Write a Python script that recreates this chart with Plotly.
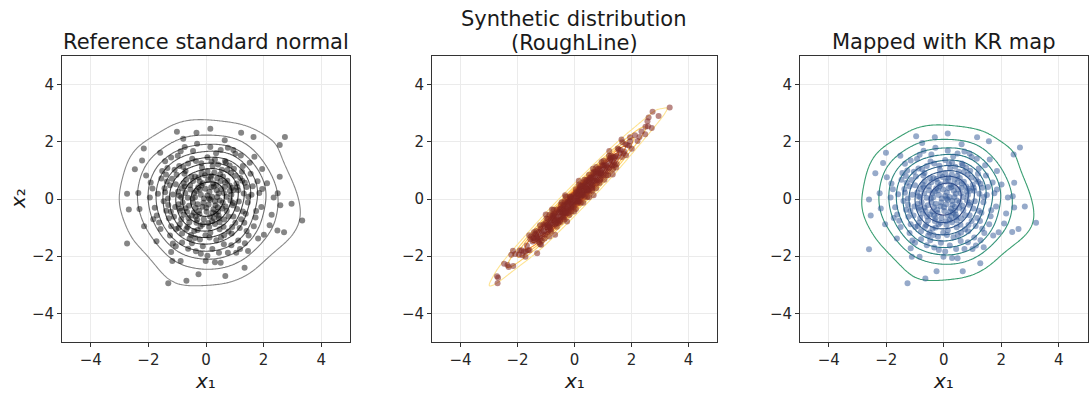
import numpy as np
import plotly.graph_objects as go

# ---------------------------------------------------------------- data
# Samples from the reference standard normal
ref_pts = [
    (0.05, 0.12), (-0.21, 0.33), (0.31, -0.08), (-0.12, -0.27), (0.18, 0.41), (-0.38, 0.06), (0.44, 0.19),
    (0.02, -0.45), (-0.29, -0.18), (0.26, -0.36), (-0.07, 0.02), (0.12, 0.25), (-0.45, -0.12), (0.37, 0.31),
    (-0.16, 0.47), (0.09, -0.19), (-0.33, 0.28), (0.48, -0.05), (0.21, 0.08), (-0.02, 0.36), (-0.24, -0.41),
    (0.33, -0.22), (-0.41, 0.21), (0.15, -0.03), (-0.09, -0.13), (0.27, 0.44), (-0.18, 0.15), (0.41, -0.29),
    (0.01, -0.31), (-0.36, -0.31), (0.11, 0.02), (-0.27, 0.41), (0.23, -0.47), (-0.47, 0.02), (0.39, 0.07),
    (0.62, 0.21), (-0.55, 0.48), (0.18, 0.81), (-0.71, -0.32), (0.45, -0.68), (-0.12, -0.89), (0.88, 0.15),
    (-0.93, 0.11), (0.51, 0.63), (-0.38, 0.79), (0.72, -0.42), (-0.61, -0.66), (0.05, 0.97), (0.31, -0.87),
    (-0.84, 0.38), (0.93, -0.22), (-0.22, 0.62), (0.66, 0.58), (-0.49, -0.58), (0.14, -0.61), (-0.77, 0.55),
    (0.82, 0.47), (-0.95, -0.18), (0.39, 0.72), (-0.08, -0.71), (0.57, -0.33), (-0.63, 0.04), (0.25, 0.55),
    (-0.33, -0.83), (0.71, 0.08), (-0.51, 0.78), (0.47, -0.81), (-0.88, -0.41), (0.96, 0.31), (-0.15, 0.91),
    (0.34, -0.52), (-0.72, 0.21), (0.59, 0.79), (-0.42, -0.47), (0.11, -0.98), (0.78, -0.61), (-0.97, 0.25),
    (0.29, 0.93), (-0.58, -0.81), (0.85, -0.05), (-0.26, 0.75), (0.53, 0.35), (-0.81, -0.12), (0.07, 0.66),
    (0.63, -0.72), (-0.69, 0.67), (0.91, 0.39), (-0.36, -0.62), (0.21, -0.78), (-0.54, 0.33), (0.74, 0.64),
    (-0.9, -0.33), (0.42, -0.44), (-0.04, 0.83), (0.58, -0.12), (-0.66, -0.45), (0.36, 0.49), (-0.19, -0.96),
    (0.83, 0.28), (-0.74, 0.44), (0.16, 0.73), (-0.45, 0.63), (0.68, -0.26), (-0.31, -0.72), (0.49, 0.86),
    (-0.86, 0.06), (0.27, -0.67), (-0.59, -0.24), (0.95, -0.14), (-0.11, 0.55), (0.65, 0.42), (-0.78, -0.55),
    (0.44, -0.59), (-0.23, -0.53), (0.08, -0.84),
    (1.12, 0.31), (-1.05, 0.52), (0.42, 1.21), (-0.68, -1.05), (1.28, -0.44), (-1.31, -0.21), (0.15, -1.18),
    (-0.35, 1.33), (0.87, 0.92), (-1.18, 0.71), (1.02, -0.83), (-0.91, -0.88), (0.63, -1.27), (-1.42, 0.24),
    (1.35, 0.57), (-0.21, -1.42), (0.97, 1.06), (-0.79, 1.12), (1.45, -0.12), (-1.11, -0.62), (0.31, 1.38),
    (-0.52, -1.26), (1.19, 0.73), (-1.38, -0.41), (0.78, -1.14), (-0.14, 1.09), (1.08, -0.35), (-1.25, 0.48),
    (0.55, 1.02), (-0.95, -1.01), (1.31, 0.19), (-0.62, 1.24), (0.12, -1.35), (-1.47, -0.08), (1.22, -0.71),
    (-0.41, -1.12), (0.69, 1.28), (-1.02, 0.85), (1.41, 0.42), (-0.83, -1.21), (0.91, -0.98), (-1.29, -0.67),
    (0.23, 1.15), (-1.15, 0.16), (1.06, 0.54), (-0.29, -1.08), (0.47, -1.06), (-0.71, 0.98), (1.38, -0.52),
    (-1.36, 0.61), (0.82, 1.17), (-0.48, 1.41), (1.17, -1.01), (-1.07, -0.28), (0.36, -1.44), (-0.93, 1.15),
    (1.25, 0.95), (-1.21, -0.95), (0.05, 1.46), (1.47, 0.08), (-1.44, 0.38), (0.61, -0.97), (-0.57, -1.38),
    (1.01, 0.81), (-1.32, 0.02), (0.95, -0.61), (-0.16, 1.25), (1.14, -0.09), (-0.86, -0.71), (0.74, 1.01),
    (-1.09, 1.02), (1.33, -0.83), (-0.38, -1.36), (0.19, 1.31), (-1.22, -0.45), (1.09, 0.42), (-0.75, 0.88),
    (0.52, -1.35), (-1.04, -1.05), (1.26, 0.64), (-0.02, -1.27), (0.89, -1.21), (-1.39, 0.86), (0.66, 1.33),
    (-0.64, -0.98),
    (1.62, 0.45), (-1.55, 0.72), (0.51, 1.71), (-0.83, -1.52), (1.72, -0.65), (-1.78, -0.31), (0.22, -1.75),
    (-0.45, 1.68), (1.28, 1.15), (-1.34, 1.08), (1.41, -1.12), (-1.25, -1.28), (0.88, -1.62), (-1.86, 0.37),
    (1.85, 0.21), (-0.18, -1.91), (1.02, 1.58), (-0.98, 1.51), (1.92, -0.28), (-1.63, -0.82), (0.15, 1.82),
    (-0.62, -1.74), (1.55, 0.88), (-1.71, -0.58), (1.12, -1.45), (-0.31, 1.93), (1.66, -0.95), (-1.52, 0.98),
    (0.76, 1.79), (-1.15, -1.56), (1.79, 0.62), (-0.74, 1.82), (0.45, -1.88), (-1.95, 0.05), (1.48, -1.28),
    (-0.49, -1.55), (1.21, 1.52), (-1.42, 1.32), (1.95, 0.35), (-1.05, -1.65), (0.62, -1.58), (-1.83, -0.71),
    (0.35, 1.6), (-1.67, 0.18), (1.58, 0.15), (-0.11, -1.65), (1.35, -1.55), (-1.21, 1.45), (0.95, 1.71),
    (-1.58, -1.05), (1.74, -0.42), (-0.88, 1.67), (0.05, -1.98), (1.18, -1.75), (-1.92, 0.58), (1.52, 1.27),
    (-0.35, -1.83),
    (2.12, 0.55), (-2.08, 0.82), (0.65, 2.05), (-1.21, -1.85), (2.21, -0.92), (-2.31, -0.35), (0.31, -2.21),
    (-0.79, 2.11), (1.68, 1.48), (-1.59, 1.62), (1.81, -1.38), (-1.72, -1.48), (1.05, -1.88), (-2.35, 0.21),
    (2.35, 0.05), (-0.88, -2.17), (1.22, 2.32), (-1.01, 2.35), (2.28, -0.55), (-2.15, -0.95), (0.15, 2.46),
    (-1.17, -2.17), (1.95, 1.05), (-2.22, 1.35), (1.46, -1.82), (-0.33, 2.32), (2.01, -1.25), (0.51, -2.23),
    (-0.01, -2.17), (1.65, 2.17), (0.76, -1.88),
    (2.74, 2.17), (2.56, 1.89), (3.34, -0.75), (-2.74, -1.56), (-1.31, -2.95), (-0.68, -2.86), (-0.26, -2.63),
    (0.67, -2.69), (1.34, -2.40), (2.97, -0.17), (2.71, -1.16), (2.56, 0.78), (-2.74, 0.18), (-2.68, -0.37),
    (-2.47, 1.04), (-2.16, 1.77), (2.48, -1.10), (2.58, -0.22), (2.49, 0.20),
]

# Samples of the synthetic "RoughLine" target
syn_pts = [
    (0.05, 0.07), (-0.21, -0.14), (0.31, 0.29), (-0.12, -0.17), (0.18, 0.26), (-0.38, -0.37), (0.44, 0.48),
    (0.02, -0.07), (-0.29, -0.33), (0.26, 0.19), (-0.07, -0.07), (0.12, 0.17), (-0.45, -0.47), (0.37, 0.43),
    (-0.16, -0.07), (0.09, 0.05), (-0.33, -0.27), (0.48, 0.47), (0.21, 0.23), (-0.02, 0.05), (-0.24, -0.32),
    (0.33, 0.29), (-0.41, -0.37), (0.15, 0.14), (-0.09, -0.12), (0.27, 0.36), (-0.18, -0.15), (0.41, 0.35),
    (0.01, -0.05), (-0.36, -0.42), (0.11, 0.11), (-0.27, -0.19), (0.23, 0.14), (-0.47, -0.47), (0.39, 0.40),
    (0.62, 0.66), (-0.55, -0.45), (0.18, 0.34), (-0.71, -0.77), (0.45, 0.31), (-0.12, -0.30), (0.88, 0.91),
    (-0.93, -0.91), (0.51, 0.64), (-0.38, -0.22), (0.72, 0.64), (-0.61, -0.74), (0.05, 0.24), (0.31, 0.14),
    (-0.84, -0.76), (0.93, 0.89), (-0.22, -0.10), (0.66, 0.78), (-0.49, -0.61), (0.14, 0.02), (-0.77, -0.66),
    (0.82, 0.91), (-0.95, -0.99), (0.39, 0.53), (-0.08, -0.22), (0.57, 0.50), (-0.63, -0.62), (0.25, 0.36),
    (-0.33, -0.50), (0.71, 0.73), (-0.51, -0.35), (0.47, 0.31), (-0.88, -0.96), (0.96, 1.02), (-0.15, 0.03),
    (0.34, 0.24), (-0.72, -0.68), (0.59, 0.75), (-0.42, -0.51), (0.11, -0.09), (0.78, 0.66), (-0.97, -0.92),
    (0.29, 0.48), (-0.58, -0.74), (0.85, 0.84), (-0.26, -0.11), (0.53, 0.60), (-0.81, -0.83), (0.07, 0.20),
    (0.63, 0.49), (-0.69, -0.56), (0.91, 0.99), (-0.36, -0.48), (0.21, 0.05), (-0.54, -0.47), (0.74, 0.87),
    (-0.9, -0.97), (0.42, 0.33), (-0.04, 0.13), (0.58, 0.56), (-0.66, -0.75), (0.36, 0.46), (-0.19, -0.38),
    (0.83, 0.89), (-0.74, -0.65), (0.16, 0.31), (-0.45, -0.32), (0.68, 0.63), (-0.31, -0.45), (0.49, 0.66),
    (-0.86, -0.85), (0.27, 0.14), (-0.59, -0.64), (0.95, 0.92), (-0.11, 0.00), (0.65, 0.73), (-0.78, -0.89),
    (0.44, 0.32), (-0.23, -0.34), (0.08, -0.09),
    (1.12, 1.18), (-1.05, -0.95), (0.42, 0.66), (-0.68, -0.89), (1.28, 1.19), (-1.31, -1.35), (0.15, -0.09),
    (-0.35, -0.08), (0.87, 1.05), (-1.18, -1.04), (1.02, 0.85), (-0.91, -1.09), (0.63, 0.38), (-1.42, -1.37),
    (1.35, 1.46), (-0.21, -0.49), (0.97, 1.18), (-0.79, -0.57), (1.45, 1.43), (-1.11, -1.23), (0.31, 0.59),
    (-0.52, -0.77), (1.19, 1.34), (-1.38, -1.46), (0.78, 0.55), (-0.14, 0.08), (1.08, 1.01), (-1.25, -1.15),
    (0.55, 0.75), (-0.95, -1.15), (1.31, 1.35), (-0.62, -0.37), (0.12, -0.15), (-1.47, -1.49), (1.22, 1.08),
    (-0.41, -0.63), (0.69, 0.95), (-1.02, -0.85), (1.41, 1.49), (-0.83, -1.07), (0.91, 0.71), (-1.29, -1.42),
    (0.23, 0.46), (-1.15, -1.12), (1.06, 1.17), (-0.29, -0.51), (0.47, 0.26), (-0.71, -0.51), (1.38, 1.28),
    (-1.36, -1.24), (0.82, 1.05), (-0.48, -0.20), (1.17, 0.97), (-1.07, -1.13), (0.36, 0.07), (-0.93, -0.70),
    (1.25, 1.44), (-1.21, -1.40), (0.05, 0.34), (1.47, 1.49), (-1.44, -1.36), (0.61, 0.42), (-0.57, -0.85),
    (1.01, 1.17), (-1.32, -1.32), (0.95, 0.83), (-0.16, 0.09), (1.14, 1.12), (-0.86, -1.00), (0.74, 0.94),
    (-1.09, -0.89), (1.33, 1.16), (-0.38, -0.65), (0.19, 0.45), (-1.22, -1.31), (1.09, 1.17), (-0.75, -0.57),
    (0.52, 0.25), (-1.04, -1.25), (1.26, 1.39), (-0.02, -0.27), (0.89, 0.65), (-1.39, -1.22), (0.66, 0.93),
    (-0.64, -0.84),
    (1.62, 1.71), (-1.55, -1.41), (0.51, 0.85), (-0.83, -1.13), (1.72, 1.59), (-1.78, -1.84), (0.22, -0.13),
    (-0.45, -0.11), (1.28, 1.51), (-1.34, -1.12), (1.41, 1.19), (-1.25, -1.51), (0.88, 0.56), (-1.86, -1.79),
    (1.85, 1.89), (-0.18, -0.56), (1.02, 1.34), (-0.98, -0.68), (1.92, 1.86), (-1.63, -1.79), (0.15, 0.51),
    (-0.62, -0.97), (1.55, 1.73), (-1.71, -1.83), (1.12, 0.83), (-0.31, 0.08), (1.66, 1.47), (-1.52, -1.32),
    (0.76, 1.12), (-1.15, -1.46), (1.79, 1.91), (-0.74, -0.38), (0.45, 0.07), (-1.95, -1.94), (1.48, 1.22),
    (-0.49, -0.80), (1.21, 1.51), (-1.42, -1.16), (1.95, 2.02), (-1.05, -1.38), (0.62, 0.30), (-1.83, -1.97),
    (0.35, 0.67), (-1.67, -1.63), (1.58, 1.61), (-0.11, -0.44), (1.35, 1.04), (-1.21, -0.92), (0.95, 1.29),
    (-1.58, -1.79), (1.74, 1.66), (-0.88, -0.55), (0.05, -0.35), (1.18, 0.83), (-1.92, -1.80), (1.52, 1.77),
    (-0.35, -0.72),
    (2.12, 2.23), (-2.08, -1.92), (0.65, 1.06), (-1.21, -1.58), (2.21, 2.03), (-2.31, -2.38), (0.31, -0.13),
    (-0.79, -0.37), (1.68, 1.98), (-1.59, -1.27), (1.81, 1.53), (-1.72, -2.02), (1.05, 0.67), (-2.35, -2.31),
    (2.35, 2.36), (-0.88, -1.31), (1.22, 1.68), (-1.01, -0.54), (2.28, 2.17), (-2.15, -2.34), (0.15, 0.64),
    (-1.17, -1.60), (1.95, 2.16), (-2.22, -1.95), (1.46, 1.10), (-0.33, 0.13), (2.01, 1.76), (0.51, 0.06),
    (-0.01, -0.44), (1.65, 2.08), (0.76, 0.38),
    (2.74, 3.05), (2.6, 2.85), (3.34, 3.2), (-2.7, -2.95), (-1.31, -1.90), (-0.68, -1.25), (-0.26, -0.79),
    (0.67, 0.13), (1.34, 0.86), (2.95, 2.9), (2.71, 2.48), (2.56, 2.72), (-2.72, -2.70), (-2.68, -2.75),
    (-2.47, -2.26), (-2.16, -1.81), (2.48, 2.26), (2.58, 2.54), (2.49, 2.53),
]

# Synthetic samples pushed through the Knothe-Rosenblatt map
kr_pts = [
    (0.05, 0.11), (-0.2, 0.31), (0.29, -0.07), (-0.11, -0.25), (0.17, 0.38), (-0.36, 0.06), (0.42, 0.18),
    (0.02, -0.42), (-0.28, -0.17), (0.25, -0.33), (-0.07, 0.02), (0.11, 0.23), (-0.43, -0.11), (0.35, 0.29),
    (-0.15, 0.44), (0.09, -0.18), (-0.31, 0.26), (0.46, -0.05), (0.2, 0.07), (-0.02, 0.33), (-0.23, -0.38),
    (0.31, -0.2), (-0.39, 0.2), (0.14, -0.03), (-0.09, -0.12), (0.26, 0.41), (-0.17, 0.14), (0.39, -0.27),
    (0.01, -0.29), (-0.34, -0.29), (0.1, 0.02), (-0.26, 0.38), (0.22, -0.44), (-0.45, 0.02), (0.37, 0.07),
    (0.59, 0.2), (-0.52, 0.45), (0.17, 0.75), (-0.67, -0.3), (0.43, -0.63), (-0.11, -0.83), (0.84, 0.14),
    (-0.88, 0.1), (0.48, 0.59), (-0.36, 0.73), (0.68, -0.39), (-0.58, -0.61), (0.05, 0.9), (0.29, -0.81),
    (-0.8, 0.35), (0.88, -0.2), (-0.21, 0.58), (0.63, 0.54), (-0.47, -0.54), (0.13, -0.57), (-0.73, 0.51),
    (0.78, 0.44), (-0.9, -0.17), (0.37, 0.67), (-0.08, -0.66), (0.54, -0.31), (-0.6, 0.04), (0.24, 0.51),
    (-0.31, -0.77), (0.67, 0.07), (-0.48, 0.73), (0.45, -0.75), (-0.84, -0.38), (0.91, 0.29), (-0.14, 0.85),
    (0.32, -0.48), (-0.68, 0.2), (0.56, 0.73), (-0.4, -0.44), (0.1, -0.91), (0.74, -0.57), (-0.92, 0.23),
    (0.28, 0.86), (-0.55, -0.75), (0.81, -0.05), (-0.25, 0.7), (0.5, 0.33), (-0.77, -0.11), (0.07, 0.61),
    (0.6, -0.67), (-0.66, 0.62), (0.86, 0.36), (-0.34, -0.58), (0.2, -0.73), (-0.51, 0.31), (0.7, 0.6),
    (-0.86, -0.31), (0.4, -0.41), (-0.04, 0.77), (0.55, -0.11), (-0.63, -0.42), (0.34, 0.46), (-0.18, -0.89),
    (0.79, 0.26), (-0.7, 0.41), (0.15, 0.68), (-0.43, 0.59), (0.65, -0.24), (-0.29, -0.67), (0.47, 0.8),
    (-0.82, 0.06), (0.26, -0.62), (-0.56, -0.22), (0.9, -0.13), (-0.1, 0.51), (0.62, 0.39), (-0.74, -0.51),
    (0.42, -0.55), (-0.22, -0.49), (0.08, -0.78),
    (1.06, 0.29), (-1.0, 0.48), (0.4, 1.13), (-0.65, -0.98), (1.22, -0.41), (-1.24, -0.2), (0.14, -1.1),
    (-0.33, 1.24), (0.83, 0.86), (-1.12, 0.66), (0.97, -0.77), (-0.86, -0.82), (0.6, -1.18), (-1.35, 0.22),
    (1.28, 0.53), (-0.2, -1.32), (0.92, 0.99), (-0.75, 1.04), (1.38, -0.11), (-1.05, -0.58), (0.29, 1.28),
    (-0.49, -1.17), (1.13, 0.68), (-1.31, -0.38), (0.74, -1.06), (-0.13, 1.01), (1.03, -0.33), (-1.19, 0.45),
    (0.52, 0.95), (-0.9, -0.94), (1.24, 0.18), (-0.59, 1.15), (0.11, -1.26), (-1.4, -0.07), (1.16, -0.66),
    (-0.39, -1.04), (0.66, 1.19), (-0.97, 0.79), (1.34, 0.39), (-0.79, -1.13), (0.86, -0.91), (-1.23, -0.62),
    (0.22, 1.07), (-1.09, 0.15), (1.01, 0.5), (-0.28, -1.0), (0.45, -0.99), (-0.67, 0.91), (1.31, -0.48),
    (-1.29, 0.57), (0.78, 1.09), (-0.46, 1.31), (1.11, -0.94), (-1.02, -0.26), (0.34, -1.34), (-0.88, 1.07),
    (1.19, 0.88), (-1.15, -0.88), (0.05, 1.36), (1.4, 0.07), (-1.37, 0.35), (0.58, -0.9), (-0.54, -1.28),
    (0.96, 0.75), (-1.25, 0.02), (0.9, -0.57), (-0.15, 1.16), (1.08, -0.08), (-0.82, -0.66), (0.7, 0.94),
    (-1.04, 0.95), (1.26, -0.77), (-0.36, -1.26), (0.18, 1.22), (-1.16, -0.42), (1.04, 0.39), (-0.71, 0.82),
    (0.49, -1.26), (-0.99, -0.98), (1.2, 0.6), (-0.02, -1.18), (0.85, -1.13), (-1.32, 0.8), (0.63, 1.24),
    (-0.61, -0.91),
    (1.54, 0.42), (-1.47, 0.67), (0.48, 1.59), (-0.79, -1.41), (1.63, -0.6), (-1.69, -0.29), (0.21, -1.63),
    (-0.43, 1.56), (1.22, 1.07), (-1.27, 1.0), (1.34, -1.04), (-1.19, -1.19), (0.84, -1.51), (-1.77, 0.34),
    (1.76, 0.2), (-0.17, -1.78), (0.97, 1.47), (-0.93, 1.4), (1.82, -0.26), (-1.55, -0.76), (0.14, 1.69),
    (-0.59, -1.62), (1.47, 0.82), (-1.62, -0.54), (1.06, -1.35), (-0.29, 1.79), (1.58, -0.88), (-1.44, 0.91),
    (0.72, 1.66), (-1.09, -1.45), (1.7, 0.58), (-0.7, 1.69), (0.43, -1.75), (-1.85, 0.05), (1.41, -1.19),
    (-0.47, -1.44), (1.15, 1.41), (-1.35, 1.23), (1.85, 0.33), (-1.0, -1.53), (0.59, -1.47), (-1.74, -0.66),
    (0.33, 1.49), (-1.59, 0.17), (1.5, 0.14), (-0.1, -1.53), (1.28, -1.44), (-1.15, 1.35), (0.9, 1.59),
    (-1.5, -0.98), (1.65, -0.39), (-0.84, 1.55), (0.05, -1.84), (1.12, -1.63), (-1.82, 0.54), (1.44, 1.18),
    (-0.33, -1.7),
    (2.01, 0.51), (-1.98, 0.76), (0.62, 1.91), (-1.15, -1.72), (2.1, -0.86), (-2.19, -0.33), (0.29, -2.06),
    (-0.75, 1.96), (1.6, 1.38), (-1.51, 1.51), (1.72, -1.28), (-1.63, -1.38), (1.0, -1.75), (-2.23, 0.2),
    (2.23, 0.05), (-0.84, -2.02), (1.16, 2.16), (-0.96, 2.19), (2.17, -0.51), (-2.04, -0.88), (0.14, 2.29),
    (-1.11, -2.02), (1.85, 0.98), (-2.11, 1.26), (1.39, -1.69), (-0.31, 2.16), (1.91, -1.16), (0.48, -2.07),
    (-0.01, -2.02), (1.57, 2.02), (0.72, -1.75),
    (2.65, 1.80), (2.43, 1.56), (3.21, -0.83), (-2.6, -1.76), (-1.26, -2.95), (-0.64, -2.78), (-0.25, -2.53),
    (0.66, -2.53), (1.27, -2.25), (2.82, -0.26), (2.6, -1.05), (2.45, 0.57), (-2.6, -0.02), (-2.54, -0.58),
    (-2.38, 0.9), (-2.01, 1.62), (2.38, -1.15), (2.45, -0.3), (2.4, 0.1),
]

panel_titles = ["Reference standard normal", "Synthetic distribution", "Mapped with KR map"]
panel_subtitle = "(RoughLine)"
x_label = "<i>x</i>\u2081"
y_label = "<i>x</i>\u2082"
tick_vals = [-4, -2, 0, 2, 4]
axis_range = [-5, 5]
iso_props = np.linspace(0.05, 1, 10)
bw_adjust = 1.35

point_colors = ["rgba(0,0,0,0.48)", "rgba(130,38,32,0.55)", "rgba(45,85,150,0.5)"]
grey_lines = ["#8a8a8a", "#7c7c7c", "#6e6e6e", "#616161", "#555555", "#4a4a4a", "#404040", "#383838", "#303030"]
ylorbr_lines = ["#fee391", "#fed062", "#fec44f", "#fe9929", "#ec7014", "#cc4c02", "#a83c04", "#8c2d04", "#662506"]
crest_lines = ["#3a9f72", "#349479", "#2f887f", "#2b7c84", "#2a6f87", "#2b6288", "#2c5486", "#2d4680", "#2c3a78"]
line_colors = [grey_lines, ylorbr_lines, crest_lines]

FONT = "DejaVu Sans"
W, H = 1089, 395
plot_left = [62, 432, 800]
plot_right = [350, 717, 1087.5]
plot_top, plot_bottom = 56, 342


def kde_on_grid(pts, n_grid=200, cut=3, adjust=1.0):
    """Gaussian KDE with Scott bandwidth and full covariance."""
    data = np.asarray(pts, dtype=float).T
    n = data.shape[1]
    cov = np.cov(data) * n ** (-1.0 / 3.0) * adjust ** 2
    inv = np.linalg.inv(cov)
    norm = 1.0 / (2 * np.pi * np.sqrt(np.linalg.det(cov)))
    bw = np.sqrt(np.diag(cov))
    gx = np.linspace(data[0].min() - cut * bw[0], data[0].max() + cut * bw[0], n_grid)
    gy = np.linspace(data[1].min() - cut * bw[1], data[1].max() + cut * bw[1], n_grid)
    X, Y = np.meshgrid(gx, gy)
    Z = np.zeros_like(X)
    for px, py in data.T:
        dx = X - px
        dy = Y - py
        q = inv[0, 0] * dx * dx + 2 * inv[0, 1] * dx * dy + inv[1, 1] * dy * dy
        Z += np.exp(-0.5 * q)
    return gx, gy, Z * norm / n


def iso_levels(Z, props):
    vals = np.sort(Z.ravel())[::-1]
    cum = np.cumsum(vals) / vals.sum()
    idx = np.searchsorted(cum, 1 - props)
    return np.take(vals, idx, mode="clip")


fig = go.Figure()
all_pts = [ref_pts, syn_pts, kr_pts]

for i, pts in enumerate(all_pts):
    ax = "" if i == 0 else str(i + 1)
    xs = [p[0] for p in pts]
    ys = [p[1] for p in pts]
    fig.add_trace(go.Scatter(
        x=xs, y=ys, mode="markers", xaxis="x" + ax, yaxis="y" + ax,
        marker=dict(size=6, color=point_colors[i], line=dict(width=0)),
        showlegend=False, hoverinfo="skip",
    ))
    gx, gy, Z = kde_on_grid(pts, adjust=bw_adjust)
    levels = iso_levels(Z, iso_props)[:-1]
    for lvl, col in zip(levels, line_colors[i]):
        fig.add_trace(go.Contour(
            x=gx, y=gy, z=Z, xaxis="x" + ax, yaxis="y" + ax,
            autocontour=False,
            contours=dict(start=float(lvl), end=float(lvl), size=1.0, coloring="none"),
            line=dict(color=col, width=1.1, smoothing=1.0),
            showscale=False, showlegend=False, hoverinfo="skip",
        ))

axis_common = dict(
    range=axis_range, tickvals=tick_vals, ticks="outside", ticklen=4, tickwidth=1,
    tickcolor="#333333", showline=True, linecolor="#333333", linewidth=1, mirror=True,
    showgrid=True, gridcolor="#ebebeb", gridwidth=1, zeroline=False,
    tickfont=dict(family=FONT, size=15, color="#262626"),
)

layout = dict(
    width=W, height=H, margin=dict(l=0, r=0, t=0, b=0),
    paper_bgcolor="white", plot_bgcolor="white", showlegend=False,
    font=dict(family=FONT, color="#1a1a1a"),
)
ydom = [1 - plot_bottom / H, 1 - plot_top / H]
for i in range(3):
    ax = "" if i == 0 else str(i + 1)
    layout["xaxis" + ax] = dict(axis_common, domain=[plot_left[i] / W, plot_right[i] / W], anchor="y" + ax)
    layout["yaxis" + ax] = dict(axis_common, domain=ydom, anchor="x" + ax)
fig.update_layout(**layout)

annotations = []
title_y = [42, 19, 42]
for i in range(3):
    cx = (plot_left[i] + plot_right[i]) / 2 / W
    annotations.append(dict(
        text=panel_titles[i], x=cx, y=1 - title_y[i] / H, xref="paper", yref="paper",
        xanchor="center", yanchor="middle", showarrow=False,
        font=dict(family=FONT, size=21, color="#1a1a1a"),
    ))
    annotations.append(dict(
        text=x_label, x=cx, y=1 - 381 / H, xref="paper", yref="paper",
        xanchor="center", yanchor="middle", showarrow=False,
        font=dict(family=FONT, size=20, color="#1a1a1a"),
    ))
annotations.append(dict(
    text=panel_subtitle, x=(plot_left[1] + plot_right[1]) / 2 / W, y=1 - 43 / H,
    xref="paper", yref="paper", xanchor="center", yanchor="middle", showarrow=False,
    font=dict(family=FONT, size=21, color="#1a1a1a"),
))
annotations.append(dict(
    text=y_label, x=18 / W, y=1 - 199 / H, xref="paper", yref="paper",
    xanchor="center", yanchor="middle", showarrow=False, textangle=-90,
    font=dict(family=FONT, size=20, color="#1a1a1a"),
))
fig.update_layout(annotations=annotations)

fig.write_html("out.html")
